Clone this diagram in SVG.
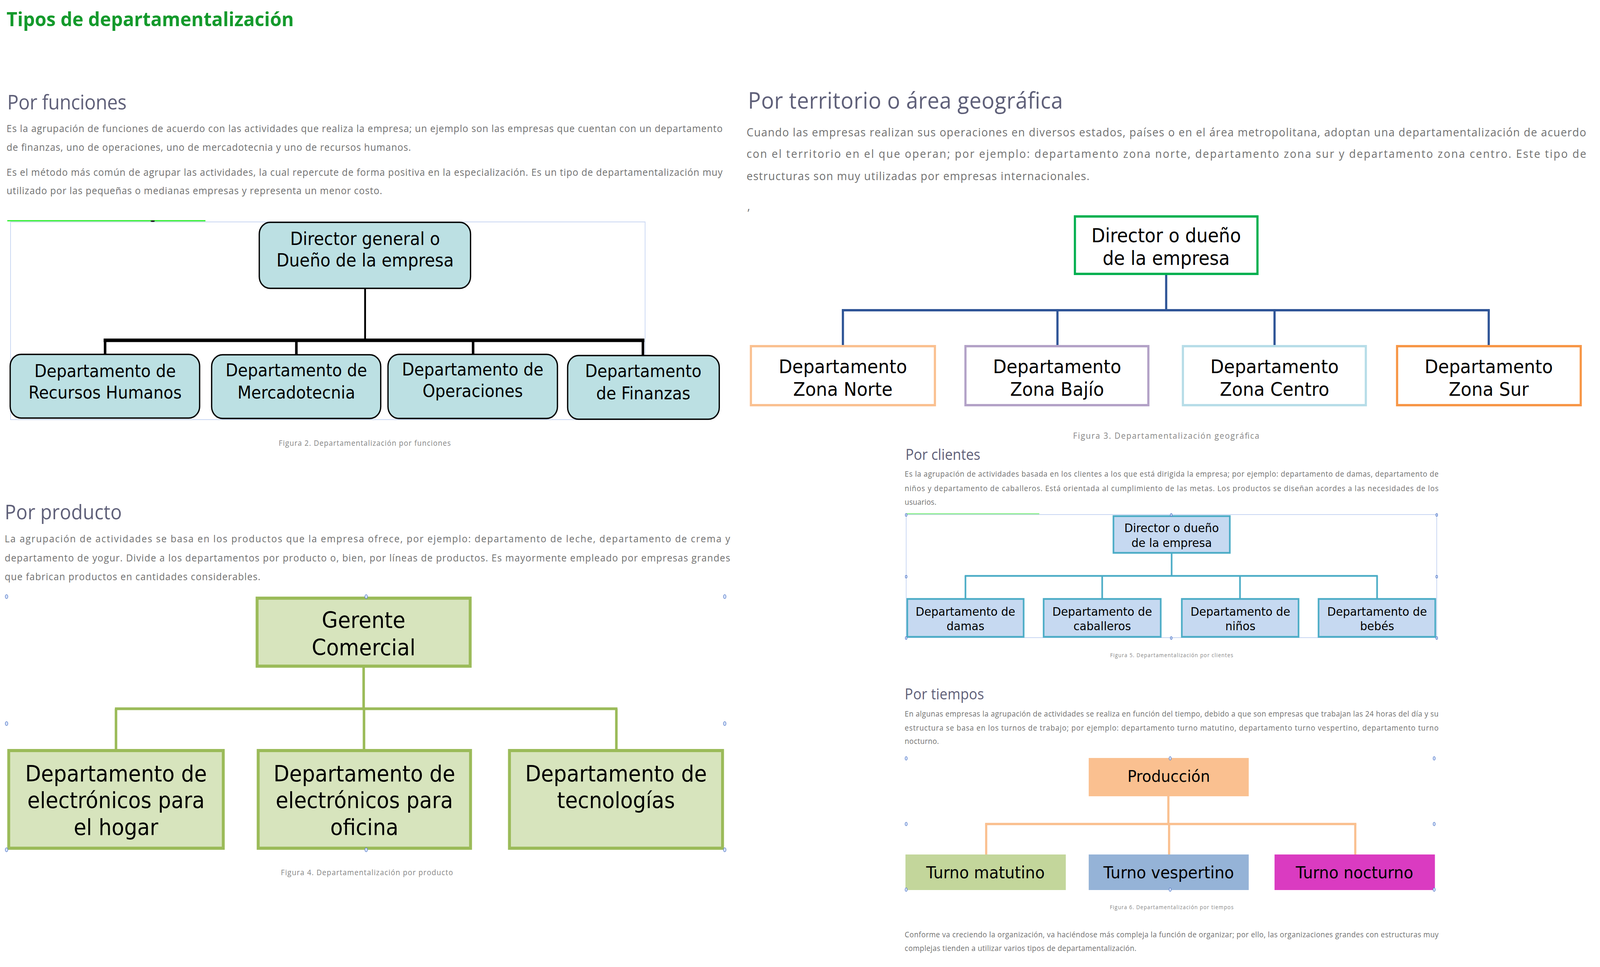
<svg xmlns="http://www.w3.org/2000/svg" width="4400" height="2475" viewBox="0 0 4400 2475" preserveAspectRatio="none">
<style>
svg{width:100vw;height:100vh}
.title{font-family:'Open Sans','Liberation Sans',sans-serif;font-weight:bold;font-size:50px;fill:#149a2c}
.h{font-family:'Open Sans','Liberation Sans',sans-serif;fill:#5f6079}
.p{font-family:'Open Sans','Liberation Sans',sans-serif;fill:#707070}
.cap{font-family:'Open Sans','Liberation Sans',sans-serif;fill:#858585;text-anchor:middle}
.bx{font-family:'DejaVu Sans',sans-serif;fill:#000;text-anchor:middle}
.frame{fill:none;stroke:#c8d6f2;stroke-width:2}
.hd{fill:#d8e4fb;stroke:#5b7fc9;stroke-width:1.5}
.fn{fill:#bce0e3;stroke:#000;stroke-width:3.5}
.pr{fill:#d7e4bd;stroke:#9bbb59;stroke-width:8}
.cl{fill:#c6d9f1;stroke:#4bacc6;stroke-width:4.5}
.tr{fill:#fff;stroke-width:6}
</style>

<text class="title" x="18" y="67" textLength="790" lengthAdjust="spacingAndGlyphs">Tipos de departamentalización</text>

<!-- Por funciones -->
<text class="h" x="20" y="280" font-size="52" textLength="328">Por funciones</text>
<g class="p" font-size="26">
<text x="18" y="338" textLength="1969">Es la agrupación de funciones de acuerdo con las actividades que realiza la empresa; un ejemplo son las empresas que cuentan con un departamento</text>
<text x="18" y="386" textLength="1112">de finanzas, uno de operaciones, uno de mercadotecnia y uno de recursos humanos.</text>
<text x="18" y="450" textLength="1969">Es el método más común de agrupar las actividades, la cual repercute de forma positiva en la especialización. Es un tipo de departamentalización muy</text>
<text x="18" y="497" textLength="1033">utilizado por las pequeñas o medianas empresas y representa un menor costo.</text>
</g>
<g id="fig-funciones">
<rect class="frame" x="29" y="568" width="1745" height="506"/>
<line x1="20" y1="565" x2="565" y2="565" stroke="#22ee22" stroke-width="3"/>
<ellipse cx="420" cy="566" rx="6" ry="2" fill="#222"/>
<g id="fn-connectors" stroke="#000" fill="none">
<line x1="1004" y1="738" x2="1004" y2="871" stroke-width="5"/>
<line x1="285" y1="871" x2="1772" y2="871" stroke-width="9"/>
<line x1="289" y1="871" x2="289" y2="908" stroke-width="7"/>
<line x1="815" y1="871" x2="815" y2="908" stroke-width="7"/>
<line x1="1301" y1="871" x2="1301" y2="908" stroke-width="7"/>
<line x1="1768" y1="871" x2="1768" y2="910" stroke-width="7"/>
</g>
<g id="fn-director"><rect class="fn" x="713" y="569" width="581" height="169" rx="30"/>
<text class="bx" font-size="45.5" x="1004" y="627">Director general o</text>
<text class="bx" font-size="45.5" x="1004" y="682">Dueño de la empresa</text></g>
<g id="fn-rrhh"><rect class="fn" x="28" y="907" width="521" height="163" rx="30"/>
<text class="bx" font-size="44" x="289" y="965">Departamento de</text>
<text class="bx" font-size="44" x="289" y="1020">Recursos Humanos</text></g>
<g id="fn-merc"><rect class="fn" x="582" y="908" width="465" height="163" rx="30"/>
<text class="bx" font-size="44" x="815" y="963">Departamento de</text>
<text class="bx" font-size="44" x="815" y="1020">Mercadotecnia</text></g>
<g id="fn-oper"><rect class="fn" x="1067" y="907" width="466" height="164" rx="30"/>
<text class="bx" font-size="44" x="1300" y="961">Departamento de</text>
<text class="bx" font-size="44" x="1300" y="1016">Operaciones</text></g>
<g id="fn-fin"><rect class="fn" x="1561" y="910" width="417" height="163" rx="30"/>
<text class="bx" font-size="44" x="1769" y="965">Departamento</text>
<text class="bx" font-size="44" x="1769" y="1022">de Finanzas</text></g>
</g>
<text class="cap" x="1003" y="1141" font-size="20" textLength="473">Figura 2. Departamentalización por funciones</text>

<!-- Por producto -->
<text class="h" x="13" y="1329" font-size="52" textLength="322">Por producto</text>
<g class="p" font-size="26">
<text x="13" y="1388" textLength="1995">La agrupación de actividades se basa en los productos que la empresa ofrece, por ejemplo: departamento de leche, departamento de crema y</text>
<text x="13" y="1437" textLength="1995">departamento de yogur. Divide a los departamentos por producto o, bien, por líneas de productos. Es mayormente empleado por empresas grandes</text>
<text x="13" y="1485" textLength="703">que fabrican productos en cantidades considerables.</text>
</g>
<g id="fig-producto">
<g id="pr-connectors" stroke="#9bbb59" stroke-width="7" fill="none">
<line x1="1000" y1="1709" x2="1000" y2="1814"/>
<line x1="316" y1="1814" x2="1698" y2="1814"/>
<line x1="319" y1="1814" x2="319" y2="1917"/>
<line x1="1001" y1="1814" x2="1001" y2="1917"/>
<line x1="1695" y1="1814" x2="1695" y2="1917"/>
</g>
<g id="pr-gerente"><rect class="pr" x="707" y="1531" width="586" height="174"/>
<text class="bx" font-size="57" x="1000" y="1607">Gerente</text>
<text class="bx" font-size="57" x="1000" y="1677">Comercial</text></g>
<g id="pr-hogar"><rect class="pr" x="24" y="1921" width="590" height="250"/>
<text class="bx" font-size="56.5" x="319" y="2000">Departamento de</text>
<text class="bx" font-size="56.5" x="319" y="2068">electrónicos para</text>
<text class="bx" font-size="56.5" x="319" y="2137">el hogar</text></g>
<g id="pr-oficina"><rect class="pr" x="710" y="1921" width="584" height="250"/>
<text class="bx" font-size="56.5" x="1002" y="2000">Departamento de</text>
<text class="bx" font-size="56.5" x="1002" y="2068">electrónicos para</text>
<text class="bx" font-size="56.5" x="1002" y="2137">oficina</text></g>
<g id="pr-tecno"><rect class="pr" x="1401" y="1921" width="586" height="250"/>
<text class="bx" font-size="56.5" x="1694" y="2000">Departamento de</text>
<text class="bx" font-size="56.5" x="1694" y="2068">tecnologías</text></g>
<g id="pr-handles">
<ellipse class="hd" cx="18" cy="1527" rx="3.5" ry="5"/>
<ellipse class="hd" cx="1007" cy="1527" rx="3.5" ry="5"/>
<ellipse class="hd" cx="1993" cy="1527" rx="3.5" ry="5"/>
<ellipse class="hd" cx="18" cy="1852" rx="3.5" ry="5"/>
<ellipse class="hd" cx="1993" cy="1852" rx="3.5" ry="5"/>
<ellipse class="hd" cx="18" cy="2175" rx="3.5" ry="5"/>
<ellipse class="hd" cx="1007" cy="2175" rx="3.5" ry="5"/>
<ellipse class="hd" cx="1993" cy="2175" rx="3.5" ry="5"/>
</g>
</g>
<text class="cap" x="1009" y="2240" font-size="20" textLength="473">Figura 4. Departamentalización por producto</text>

<!-- Por territorio -->
<text class="h" x="2057" y="278" font-size="59" textLength="866">Por territorio o área geográfica</text>
<g class="p" font-size="30">
<text x="2053" y="349" textLength="2309">Cuando las empresas realizan sus operaciones en diversos estados, países o en el área metropolitana, adoptan una departamentalización de acuerdo</text>
<text x="2053" y="404" textLength="2309">con el territorio en el que operan; por ejemplo: departamento zona norte, departamento zona sur y departamento zona centro. Este tipo de</text>
<text x="2053" y="461" textLength="943">estructuras son muy utilizadas por empresas internacionales.</text>
<text x="2055" y="538">,</text>
</g>
<g id="fig-territorio">
<g id="tr-connectors" stroke="#2f5597" stroke-width="6" fill="none">
<line x1="3207" y1="704" x2="3207" y2="794"/>
<line x1="2315" y1="794" x2="4097" y2="794"/>
<line x1="2318" y1="794" x2="2318" y2="886"/>
<line x1="2908" y1="794" x2="2908" y2="886"/>
<line x1="3505" y1="794" x2="3505" y2="886"/>
<line x1="4094" y1="794" x2="4094" y2="886"/>
</g>
<g id="tr-director"><rect class="tr" x="2956" y="554" width="502" height="147" stroke="#00b050"/>
<text class="bx" font-size="49" x="3207" y="620">Director o dueño</text>
<text class="bx" font-size="49" x="3207" y="678">de la empresa</text></g>
<g id="tr-norte"><rect class="tr" x="2065" y="886" width="506" height="151" stroke="#fac090"/>
<text class="bx" font-size="48.5" x="2318" y="955">Departamento</text>
<text class="bx" font-size="48.5" x="2318" y="1013">Zona Norte</text></g>
<g id="tr-bajio"><rect class="tr" x="2655" y="886" width="503" height="151" stroke="#b3a2c7"/>
<text class="bx" font-size="48.5" x="2907" y="955">Departamento</text>
<text class="bx" font-size="48.5" x="2907" y="1013">Zona Bajío</text></g>
<g id="tr-centro"><rect class="tr" x="3253" y="886" width="503" height="151" stroke="#b7dde8"/>
<text class="bx" font-size="48.5" x="3505" y="955">Departamento</text>
<text class="bx" font-size="48.5" x="3505" y="1013">Zona Centro</text></g>
<g id="tr-sur"><rect class="tr" x="3842" y="886" width="505" height="151" stroke="#f79646"/>
<text class="bx" font-size="48.5" x="4094" y="955">Departamento</text>
<text class="bx" font-size="48.5" x="4094" y="1013">Zona Sur</text></g>
</g>
<text class="cap" x="3207" y="1123" font-size="22" textLength="512">Figura 3. Departamentalización geográfica</text>

<!-- Por clientes -->
<text class="h" x="2490" y="1177" font-size="38" textLength="206">Por clientes</text>
<g class="p" font-size="20">
<text x="2488" y="1220" textLength="1468">Es la agrupación de actividades basada en los clientes a los que está dirigida la empresa; por ejemplo: departamento de damas, departamento de</text>
<text x="2488" y="1257" textLength="1468">niños y departamento de caballeros. Está orientada al cumplimiento de las metas. Los productos se diseñan acordes a las necesidades de los</text>
<text x="2488" y="1292" textLength="87">usuarios.</text>
</g>
<g id="fig-clientes">
<rect class="frame" x="2492" y="1317" width="1459" height="315" stroke-width="1.5"/>
<line x1="2492" y1="1315" x2="2858" y2="1315" stroke="#80ee80" stroke-width="2.5"/>
<g id="cl-connectors" stroke="#4bacc6" stroke-width="4.5" fill="none">
<line x1="3222" y1="1417" x2="3222" y2="1474"/>
<line x1="2653" y1="1474" x2="3789" y2="1474"/>
<line x1="2655" y1="1474" x2="2655" y2="1533"/>
<line x1="3031" y1="1474" x2="3031" y2="1533"/>
<line x1="3410" y1="1474" x2="3410" y2="1533"/>
<line x1="3787" y1="1474" x2="3787" y2="1533"/>
</g>
<g id="cl-director"><rect class="cl" x="3062" y="1321" width="320" height="94"/>
<text class="bx" font-size="31" x="3222" y="1362">Director o dueño</text>
<text class="bx" font-size="31" x="3222" y="1400">de la empresa</text></g>
<g id="cl-damas"><rect class="cl" x="2495" y="1533" width="320" height="97"/>
<text class="bx" font-size="31" x="2655" y="1576">Departamento de</text>
<text class="bx" font-size="31" x="2655" y="1613">damas</text></g>
<g id="cl-caballeros"><rect class="cl" x="2870" y="1533" width="322" height="97"/>
<text class="bx" font-size="31" x="3031" y="1576">Departamento de</text>
<text class="bx" font-size="31" x="3031" y="1613">caballeros</text></g>
<g id="cl-ninos"><rect class="cl" x="3250" y="1533" width="321" height="97"/>
<text class="bx" font-size="31" x="3411" y="1576">Departamento de</text>
<text class="bx" font-size="31" x="3411" y="1613">niños</text></g>
<g id="cl-bebes"><rect class="cl" x="3626" y="1533" width="321" height="97"/>
<text class="bx" font-size="31" x="3787" y="1576">Departamento de</text>
<text class="bx" font-size="31" x="3787" y="1613">bebés</text></g>
<g id="cl-handles">
<ellipse class="hd" cx="2492" cy="1318" rx="2.5" ry="3.5"/>
<ellipse class="hd" cx="3221" cy="1318" rx="2.5" ry="3.5"/>
<ellipse class="hd" cx="3951" cy="1318" rx="2.5" ry="3.5"/>
<ellipse class="hd" cx="2492" cy="1476" rx="2.5" ry="3.5"/>
<ellipse class="hd" cx="3951" cy="1476" rx="2.5" ry="3.5"/>
<ellipse class="hd" cx="2492" cy="1633" rx="2.5" ry="3.5"/>
<ellipse class="hd" cx="3221" cy="1633" rx="2.5" ry="3.5"/>
<ellipse class="hd" cx="3951" cy="1633" rx="2.5" ry="3.5"/>
</g>
</g>
<text class="cap" x="3222" y="1682" font-size="14" textLength="338">Figura 5. Departamentalización por clientes</text>

<!-- Por tiempos -->
<text class="h" x="2488" y="1790" font-size="38" textLength="218">Por tiempos</text>
<g class="p" font-size="20">
<text x="2488" y="1834" textLength="1468">En algunas empresas la agrupación de actividades se realiza en función del tiempo, debido a que son empresas que trabajan las 24 horas del día y su</text>
<text x="2488" y="1870" textLength="1468">estructura se basa en los turnos de trabajo; por ejemplo: departamento turno matutino, departamento turno vespertino, departamento turno</text>
<text x="2488" y="1904" textLength="94">nocturno.</text>
</g>
<g id="fig-tiempos">
<g id="ti-connectors" stroke="#fac090" stroke-width="6" fill="none">
<line x1="3213" y1="2038" x2="3213" y2="2109"/>
<line x1="2709" y1="2109" x2="3730" y2="2109"/>
<line x1="2712" y1="2109" x2="2712" y2="2187"/>
<line x1="3215" y1="2109" x2="3215" y2="2187"/>
<line x1="3727" y1="2109" x2="3727" y2="2187"/>
</g>
<g id="ti-produccion"><rect x="2994" y="1940" width="440" height="98" fill="#fac090"/>
<text class="bx" font-size="41.5" x="3214" y="2001">Producción</text></g>
<g id="ti-matutino"><rect x="2490" y="2187" width="441" height="91" fill="#c3d69b"/>
<text class="bx" font-size="43" x="2710" y="2248">Turno matutino</text></g>
<g id="ti-vespertino"><rect x="2994" y="2187" width="440" height="91" fill="#95b3d7"/>
<text class="bx" font-size="43" x="3214" y="2248">Turno vespertino</text></g>
<g id="ti-nocturno"><rect x="3505" y="2187" width="441" height="91" fill="#da3bc1"/>
<text class="bx" font-size="43" x="3725" y="2248">Turno nocturno</text></g>
<g id="ti-handles">
<ellipse class="hd" cx="2492" cy="1941" rx="3" ry="4.5"/>
<ellipse class="hd" cx="3218" cy="1941" rx="3" ry="4.5"/>
<ellipse class="hd" cx="3944" cy="1941" rx="3" ry="4.5"/>
<ellipse class="hd" cx="2492" cy="2109" rx="3" ry="4.5"/>
<ellipse class="hd" cx="3944" cy="2109" rx="3" ry="4.5"/>
<ellipse class="hd" cx="2492" cy="2277" rx="3" ry="4.5"/>
<ellipse class="hd" cx="3218" cy="2277" rx="3" ry="4.5"/>
<ellipse class="hd" cx="3944" cy="2277" rx="3" ry="4.5"/>
</g>
</g>
<text class="cap" x="3222" y="2327" font-size="14" textLength="340">Figura 6. Departamentalización por tiempos</text>
<g class="p" font-size="20">
<text x="2488" y="2399" textLength="1468">Conforme va creciendo la organización, va haciéndose más compleja la función de organizar; por ello, las organizaciones grandes con estructuras muy</text>
<text x="2488" y="2434" textLength="637">complejas tienden a utilizar varios tipos de departamentalización.</text>
</g>
</svg>
